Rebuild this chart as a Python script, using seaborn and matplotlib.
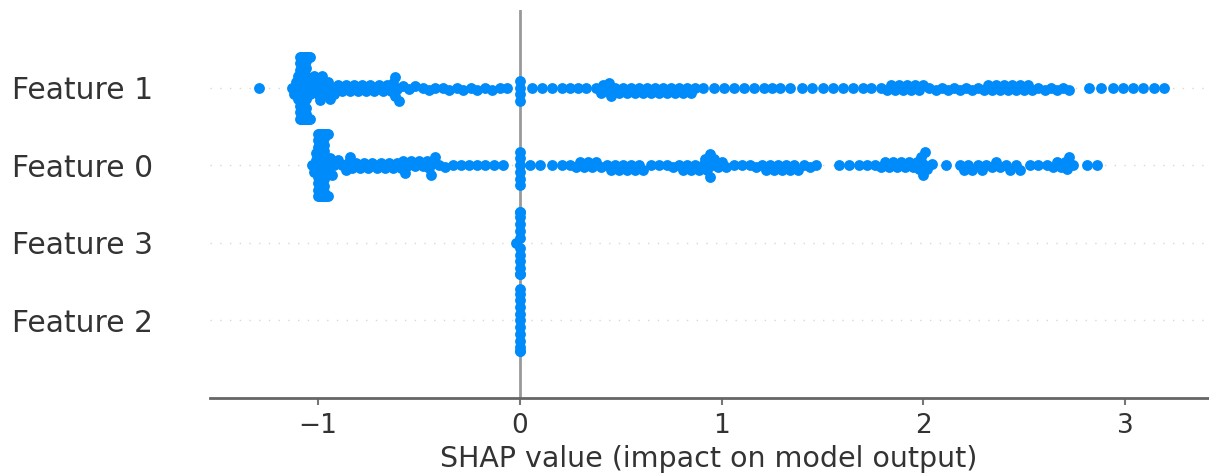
import warnings
import numpy as np
import pandas as pd
import matplotlib
matplotlib.use("Agg")
import matplotlib.pyplot as plt
from matplotlib.collections import PathCollection
import seaborn as sns

warnings.filterwarnings("ignore")

# ---------------- data (SHAP values) ----------------
feature_order = ["Feature 1", "Feature 0", "Feature 3", "Feature 2"]

shap_feature_1 = [
    -1.29,
    -1.13, -1.12, -1.11, -1.10, -1.10,
    -1.09, -1.09, -1.09, -1.09, -1.09, -1.09, -1.09, -1.08, -1.08, -1.08,
    -1.08, -1.08, -1.08, -1.08, -1.08, -1.07, -1.07, -1.07, -1.07, -1.07,
    -1.07, -1.07, -1.07, -1.06, -1.06, -1.06, -1.06, -1.06, -1.06, -1.06,
    -1.06, -1.05, -1.05, -1.05, -1.05, -1.05, -1.05, -1.04, -1.04, -1.04,
    -1.03, -1.02, -1.01, -1.00, -0.99, -0.99, -0.98, -0.97, -0.96, -0.95,
    -0.94, -0.93,
    -0.92, -0.90, -0.88, -0.86, -0.84, -0.82, -0.80, -0.78, -0.76, -0.74,
    -0.72, -0.70, -0.68, -0.66, -0.64, -0.63, -0.62, -0.62, -0.61, -0.60,
    -0.58,
    -0.55, -0.52, -0.48, -0.45, -0.42, -0.38, -0.35, -0.31, -0.28, -0.24,
    -0.21, -0.17, -0.14, -0.10, -0.065,
    0.0, 0.0, 0.0, 0.0,
    0.06, 0.11, 0.16, 0.21, 0.25, 0.29, 0.33,
    0.38, 0.40, 0.41, 0.43, 0.44, 0.45, 0.47, 0.49, 0.51, 0.53, 0.55, 0.57,
    0.59, 0.61, 0.63, 0.65, 0.67, 0.69, 0.71, 0.73, 0.75, 0.77, 0.79, 0.81,
    0.83, 0.85, 0.87,
    0.91, 0.96, 1.01, 1.06, 1.11, 1.16,
    1.21, 1.25, 1.29, 1.34,
    1.40, 1.45, 1.50, 1.55, 1.60, 1.65, 1.70, 1.74,
    1.79, 1.82, 1.84, 1.86, 1.88, 1.90, 1.92, 1.94, 1.96, 1.98, 2.00, 2.03,
    2.06, 2.09, 2.12, 2.15, 2.18, 2.21, 2.24, 2.27, 2.30, 2.32, 2.34, 2.36,
    2.38, 2.40, 2.42, 2.44, 2.46, 2.48, 2.50, 2.52, 2.54, 2.57, 2.60, 2.63,
    2.66, 2.69, 2.72,
    2.82, 2.88, 2.94, 2.99, 3.04, 3.09, 3.14, 3.19,
]

shap_feature_0 = [
    -1.03, -1.02, -1.01, -1.01,
    -1.00, -1.00, -1.00, -1.00, -1.00, -1.00, -1.00, -0.99, -0.99, -0.99,
    -0.99, -0.99, -0.99, -0.99, -0.99, -0.98, -0.98, -0.98, -0.98, -0.98,
    -0.98, -0.98, -0.98, -0.97, -0.97, -0.97, -0.97, -0.97, -0.97, -0.97,
    -0.96, -0.96, -0.96, -0.96, -0.95, -0.95, -0.95, -0.94,
    -0.93, -0.92, -0.90, -0.88, -0.86, -0.85, -0.84, -0.83, -0.81, -0.79,
    -0.77, -0.75, -0.73, -0.71, -0.69, -0.67, -0.65, -0.63, -0.61, -0.59,
    -0.58, -0.57, -0.56, -0.54, -0.52, -0.50, -0.48, -0.46, -0.45, -0.44,
    -0.43, -0.42, -0.40,
    -0.37, -0.33, -0.29, -0.25, -0.21, -0.17, -0.13, -0.085,
    0.0, 0.0, 0.0, 0.0, 0.0, 0.0,
    0.05, 0.10, 0.16, 0.21, 0.25,
    0.28, 0.30, 0.32, 0.34, 0.36, 0.38, 0.40, 0.43, 0.45, 0.47, 0.49, 0.51,
    0.53, 0.55, 0.57, 0.59, 0.61,
    0.65, 0.69, 0.73, 0.76,
    0.79, 0.81, 0.83, 0.85, 0.87, 0.89, 0.91, 0.92, 0.93, 0.94, 0.94, 0.95,
    0.96, 0.98, 1.00, 1.02,
    1.06, 1.10, 1.14, 1.17,
    1.20, 1.22, 1.24, 1.26, 1.28, 1.30, 1.32, 1.34, 1.36, 1.38, 1.41, 1.44,
    1.47,
    1.58, 1.63, 1.68, 1.72,
    1.76, 1.79, 1.81, 1.83, 1.85, 1.87, 1.89, 1.91, 1.93, 1.95, 1.97, 1.98,
    1.99, 2.00, 2.00, 2.01, 2.02, 2.04,
    2.11,
    2.18, 2.20, 2.22, 2.24, 2.27, 2.29, 2.31, 2.34, 2.36, 2.38, 2.41, 2.43,
    2.46, 2.48,
    2.53, 2.57,
    2.61, 2.64, 2.66, 2.68, 2.70, 2.71, 2.72, 2.74,
    2.81, 2.86,
]

shap_feature_3 = [-0.02, 0.0, 0.0, 0.0, 0.0, 0.0, 0.0, 0.0, 0.0, 0.0, 0.0,
                  0.0, 0.0]
shap_feature_2 = [0.0, 0.0, 0.0, 0.0, 0.0, 0.0, 0.0, 0.0, 0.0, 0.0, 0.0,
                  0.0]

x_ticks = [-1, 0, 1, 2, 3]
x_label = "SHAP value (impact on model output)"

# ---------------- tidy frame ----------------
df = pd.concat([
    pd.DataFrame({"feature": "Feature 1", "shap": shap_feature_1}),
    pd.DataFrame({"feature": "Feature 0", "shap": shap_feature_0}),
    pd.DataFrame({"feature": "Feature 3", "shap": shap_feature_3}),
    pd.DataFrame({"feature": "Feature 2", "shap": shap_feature_2}),
], ignore_index=True)

# ---------------- plot ----------------
sns.set_theme(style="white")
plt.rcParams["font.family"] = ["DejaVu Sans"]

W, H = 1209, 476
fig = plt.figure(figsize=(W / 100, H / 100), dpi=100)
ax = fig.add_axes([210 / W, 1 - 398 / H, (1208 - 210) / W, 388 / H])

point_color = "#008BFB"
axis_color = "#333333"

for i, _ in enumerate(feature_order):
    ax.axhline(i, color="#d8d8d8", lw=1.0, dashes=(1, 6), zorder=-1)
ax.axvline(0, color="#999999", lw=2, zorder=-1)

# swarm layout computed with a smaller marker so that the drawn markers
# overlap, as in SHAP's beeswarm
sns.swarmplot(data=df, x="shap", y="feature", order=feature_order,
              orient="h", color=point_color, size=4.6, linewidth=0, ax=ax)

ax.set_ylim(3.0 + 1.0, -1.0)
ax.set_xlim(-1.535, 3.41)

for s in ["top", "right", "left"]:
    ax.spines[s].set_visible(False)
ax.spines["bottom"].set_color("#666666")
ax.spines["bottom"].set_linewidth(2)

ax.set_xticks(x_ticks)
ax.set_xticklabels(["\u2212" + str(abs(t)) if t < 0 else str(t) for t in x_ticks])
ax.tick_params(axis="x", colors=axis_color, labelsize=19, length=5, width=1.5,
               direction="out", pad=6, color="#777777", bottom=True)
ax.tick_params(axis="y", labelsize=21.4, length=0, pad=41, labelcolor=axis_color)
ax.set_ylabel("")
ax.set_xlabel(x_label, fontsize=20.5, color=axis_color, labelpad=4)

# run the seaborn swarm layout once, then freeze it and enlarge the markers
fig.canvas.draw()
for coll in ax.collections:
    if isinstance(coll, PathCollection):
        if "draw" in coll.__dict__:
            del coll.__dict__["draw"]
        coll.set_sizes([7.8 ** 2])

fig.savefig("out.png", dpi=100, facecolor="white")
